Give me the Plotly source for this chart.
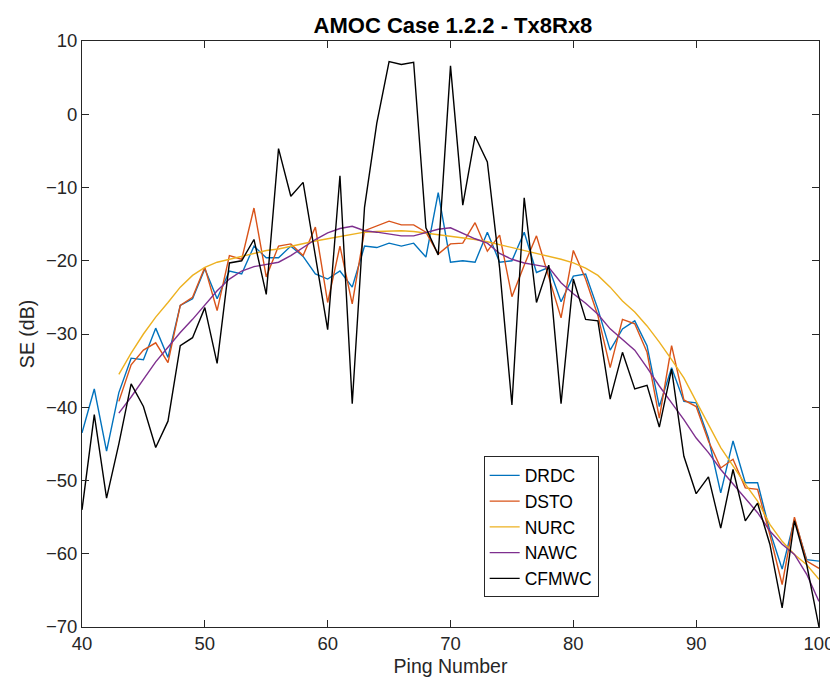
import plotly.graph_objects as go

ping_full = list(range(40, 101))
ping_sub = list(range(43, 101))

drdc = [-43.5, -37.5, -46, -38, -33.3, -33.5, -29.2, -33.2, -26.1, -25.2,
        -21.1, -25.2, -21.4, -21.8, -18, -19.6, -19.6, -18, -19.4, -21.8,
        -22.5, -21.4, -23.6, -18, -18.2, -17.6, -18, -17.6, -19.5, -10.7,
        -20.2, -20, -20.2, -16.1, -20.2, -20, -16.1, -21.6, -20.9, -25.6,
        -22.1, -21.8, -26.6, -32.2, -29.3, -28.2, -31.6, -39.9, -34.6, -39.2,
        -39.4, -44.2, -51.7, -44.6, -50.3, -50.3, -56.9, -62.1, -55.3, -60.8,
        -61]

dsto = [-39.2, -34.2, -32.2, -31.2, -33.9, -26.1, -25, -20.9, -26.8, -19.3,
        -19.8, -12.8, -22.2, -18, -17.7, -19.3, -15.4, -25.7, -18, -25.9,
        -15.9, -15.2, -14.6, -15.1, -15.1, -16.1, -19.1, -17.7, -17.6, -14.8,
        -18.7, -16.5, -24.9, -20.6, -16.6, -22.2, -27.8, -18.6, -22.5, -27.5,
        -34.6, -28, -28.6, -32.5, -41.5, -31.6, -39, -39.9, -44.6, -48.3,
        -47.1, -51, -51.2, -57.4, -64.2, -55, -61, -62]

nurc = [-35.5, -32.6, -30, -27.7, -25.7, -23.6, -22, -20.9, -20.2, -19.8,
        -19.3, -18.9, -18.6, -18.4, -18, -17.7, -17.3, -17, -16.7, -16.4,
        -16.1, -16, -15.9, -15.9, -16, -16.2, -16.5, -16.7, -16.9, -17.1,
        -17.4, -17.8, -18.1, -18.5, -18.9, -19.3, -19.8, -20.3, -21, -22,
        -23.6, -25.5, -27, -28.9, -31.1, -33.5, -36, -39.2, -42.4, -45.5,
        -48, -50.5, -52.8, -56, -58.3, -60.1, -61.5, -63.5]

nawc = [-40.8, -38.6, -36.2, -33.8, -31.8, -29.8, -28, -26.1, -24.1, -22.5,
        -21.4, -20.8, -20.5, -20.2, -19.3, -18.2, -17.1, -16.2, -15.6, -15.3,
        -15.9, -16.1, -16.4, -16.6, -16.6, -16.1, -15.7, -15.5, -16.3, -17,
        -17.6, -19, -19.8, -20.3, -20.6, -20.9, -23, -24.5, -25.8, -27.3,
        -29.3, -30.7, -32.2, -34.6, -37.1, -39.4, -41.7, -44.2, -46.2, -48.5,
        -50.5, -52.4, -54.4, -56.9, -58.7, -60.1, -62.8, -66.5]

cfmwc = [-54, -41, -52.4, -45, -36.8, -39.9, -45.5, -41.9, -31.6, -30.5,
         -26.4, -34, -20.3, -20, -17.1, -24.6, -4.7, -11.2, -9.3, -19.3,
         -29.4, -8.4, -39.5, -12.7, -1.2, 7.2, 6.8, 7.1, -15.5, -19.2,
         6.6, -12.4, -3, -6.5, -21, -39.7, -11.4, -25.7, -20.6, -39.5,
         -22.5, -28, -28.2, -38.9, -32.5, -37.5, -37, -42.7, -34.8, -46.7,
         -51.8, -49.5, -56.5, -48.5, -55.5, -53.1, -58.7, -67.4, -55.5, -61.5,
         -70]

series = [
    ("DRDC", ping_full, drdc, "#0072BD"),
    ("DSTO", ping_sub, dsto, "#D95319"),
    ("NURC", ping_sub, nurc, "#EDB120"),
    ("NAWC", ping_sub, nawc, "#7E2F8E"),
    ("CFMWC", ping_full, cfmwc, "#000000"),
]

x_ticks = [40, 50, 60, 70, 80, 90, 100]
y_ticks = [-70, -60, -50, -40, -30, -20, -10, 0, 10]

FONT = "Liberation Sans, Arial"

fig = go.Figure()
for name, xs, ys, col in series:
    fig.add_trace(go.Scatter(x=xs, y=ys, mode="lines", name=name,
                             line=dict(color=col, width=1.4)))

axis_common = dict(showline=True, linecolor="#262626", linewidth=1,
                   mirror="ticks", ticks="inside", ticklen=7, tickcolor="#262626",
                   showgrid=False, zeroline=False,
                   tickfont=dict(family=FONT, size=18.5, color="#262626"))

fig.update_layout(
    width=838, height=683,
    paper_bgcolor="white", plot_bgcolor="white",
    margin=dict(l=73.5, r=21, t=33, b=63.5),
    title=dict(text="<b>AMOC Case 1.2.2 - Tx8Rx8</b>", x=0.531, xanchor="center",
               y=0.974, yanchor="middle",
               font=dict(family=FONT, size=22, color="#000000")),
    xaxis=dict(range=[40, 100], tickvals=x_ticks,
               title=dict(text="Ping Number", standoff=6,
                          font=dict(family=FONT, size=19.5, color="#262626")),
               **axis_common),
    yaxis=dict(range=[-70, 10], tickvals=y_ticks,
               title=dict(text="SE (dB)", standoff=6,
                          font=dict(family=FONT, size=19.5, color="#262626")),
               **axis_common),
    legend=dict(x=0.545, y=0.291, xanchor="left", yanchor="top",
                bgcolor="white", bordercolor="#262626", borderwidth=1,
                font=dict(family=FONT, size=17.5, color="#000000")),
    showlegend=True,
)

fig.write_html("out.html")
